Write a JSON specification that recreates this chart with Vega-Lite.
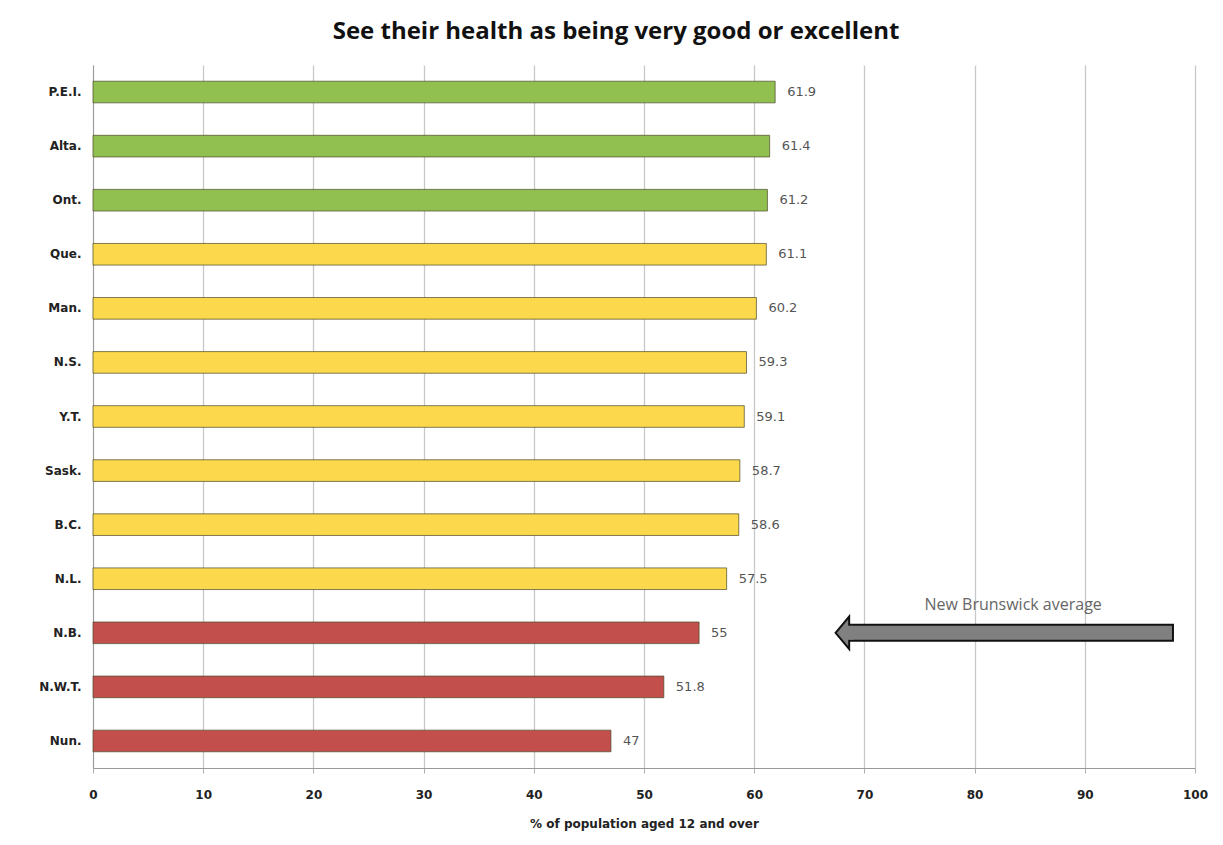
{
  "$schema": "https://vega.github.io/schema/vega-lite/v6.json",
  "width": 1102,
  "height": 703,
  "autosize": {"type": "none"},
  "padding": {"left": 93, "top": 65, "right": 28, "bottom": 77},
  "background": "white",
  "title": {
    "text": "See their health as being very good or excellent",
    "font": "Open Sans",
    "fontSize": 24,
    "fontWeight": "bold",
    "color": "#111111",
    "anchor": "middle",
    "dx": -28,
    "offset": 21
  },
  "config": {
    "view": {"stroke": null},
    "font": "DejaVu Sans"
  },
  "datasets": {
    "bars": [
      {"province": "P.E.I.", "value": 61.9, "group": "high"},
      {"province": "Alta.", "value": 61.4, "group": "high"},
      {"province": "Ont.", "value": 61.2, "group": "high"},
      {"province": "Que.", "value": 61.1, "group": "mid"},
      {"province": "Man.", "value": 60.2, "group": "mid"},
      {"province": "N.S.", "value": 59.3, "group": "mid"},
      {"province": "Y.T.", "value": 59.1, "group": "mid"},
      {"province": "Sask.", "value": 58.7, "group": "mid"},
      {"province": "B.C.", "value": 58.6, "group": "mid"},
      {"province": "N.L.", "value": 57.5, "group": "mid"},
      {"province": "N.B.", "value": 55, "group": "low"},
      {"province": "N.W.T.", "value": 51.8, "group": "low"},
      {"province": "Nun.", "value": 47, "group": "low"}
    ],
    "arrow": [
      {"province": "N.B.", "start": 68.4, "end": 98, "tip": 68.0, "cover0": 68.2, "cover1": 69.0, "label": "New Brunswick average", "labelx": 83.5}
    ]
  },
  "layer": [
    {
      "data": {"name": "bars"},
      "mark": {"type": "bar", "stroke": "#4a4a2a", "strokeWidth": 1, "strokeOpacity": 0.7},
      "encoding": {
        "y": {
          "field": "province",
          "type": "nominal",
          "sort": null,
          "scale": {"paddingInner": 0.6, "paddingOuter": 0.3},
          "axis": {
            "title": null,
            "labelFont": "DejaVu Sans",
            "labelFontSize": 12,
            "labelFontWeight": "bold",
            "labelColor": "#222222",
            "labelPadding": 12,
            "ticks": false,
            "domainColor": "#9a9a9a",
            "grid": false
          }
        },
        "x": {
          "field": "value",
          "type": "quantitative",
          "scale": {"domain": [0, 100], "nice": false},
          "axis": {
            "values": [0, 10, 20, 30, 40, 50, 60, 70, 80, 90, 100],
            "labelFlush": false,
            "title": "% of population aged 12 and over",
            "titleFont": "DejaVu Sans",
            "titleFontSize": 12,
            "titleFontWeight": "bold",
            "titleColor": "#222222",
            "titlePadding": 18,
            "labelFont": "DejaVu Sans",
            "labelFontSize": 12,
            "labelFontWeight": "bold",
            "labelColor": "#222222",
            "labelPadding": 16,
            "tickSize": 5,
            "tickColor": "#b0b0b0",
            "domainColor": "#9a9a9a",
            "grid": true,
            "gridColor": "#c8c8c8",
            "gridWidth": 1.3
          }
        },
        "color": {
          "field": "group",
          "type": "nominal",
          "scale": {"domain": ["high", "mid", "low"], "range": ["#92c050", "#fbd84c", "#c24f4c"]},
          "legend": null
        }
      }
    },
    {
      "data": {"name": "bars"},
      "mark": {"type": "text", "align": "left", "dx": 12, "font": "DejaVu Sans", "fontSize": 13, "color": "#555555"},
      "encoding": {
        "y": {"field": "province", "type": "nominal", "sort": null},
        "x": {"field": "value", "type": "quantitative"},
        "text": {"field": "value", "type": "nominal"}
      }
    },
    {
      "data": {"name": "arrow"},
      "mark": {"type": "bar", "size": 16, "color": "#808080", "stroke": "#111111", "strokeWidth": 2},
      "encoding": {
        "y": {"field": "province", "type": "nominal", "sort": null},
        "x": {"field": "start", "type": "quantitative"},
        "x2": {"field": "end"}
      }
    },
    {
      "data": {"name": "arrow"},
      "mark": {"type": "point", "shape": "M-0.42,0 L0.42,-1 L0.42,1 Z", "size": 1050, "filled": true, "color": "#808080", "stroke": "#111111", "strokeWidth": 2, "opacity": 1},
      "encoding": {
        "y": {"field": "province", "type": "nominal", "sort": null},
        "x": {"field": "tip", "type": "quantitative"}
      }
    },
    {
      "data": {"name": "arrow"},
      "mark": {"type": "bar", "size": 14, "color": "#808080"},
      "encoding": {
        "y": {"field": "province", "type": "nominal", "sort": null},
        "x": {"field": "cover0", "type": "quantitative"},
        "x2": {"field": "cover1"}
      }
    },
    {
      "data": {"name": "arrow"},
      "mark": {"type": "text", "dy": -28, "font": "Open Sans", "fontSize": 16, "color": "#666666"},
      "encoding": {
        "y": {"field": "province", "type": "nominal", "sort": null},
        "x": {"field": "labelx", "type": "quantitative"},
        "text": {"field": "label"}
      }
    }
  ]
}
